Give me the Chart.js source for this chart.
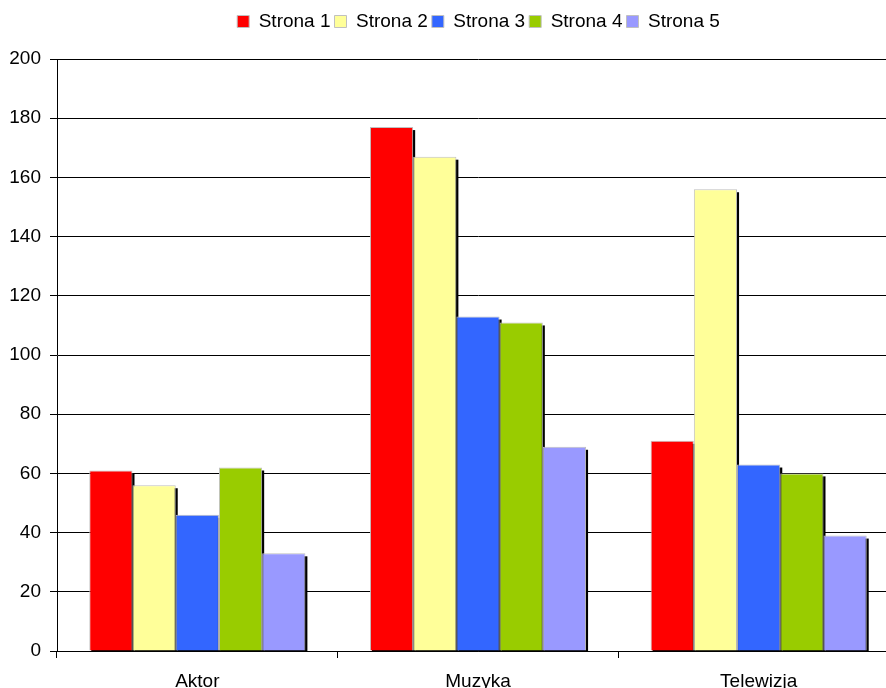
<!DOCTYPE html>
<html>
<head>
<meta charset="utf-8">
<script src="https://cdn.jsdelivr.net/npm/chart.js@4"></script>
<style>
  html, body { margin: 0; padding: 0; background: #fff; overflow: hidden; }
  #wrap { position: absolute; left: 0; top: 0; width: 900px; height: 700px; }
</style>
</head>
<body>
<div id="wrap"><canvas id="chart" width="900" height="700"></canvas></div>
<script>
// categories and series
const categories = ['Aktor', 'Muzyka', 'Telewizja'];
const seriesNames = ['Strona 1', 'Strona 2', 'Strona 3', 'Strona 4', 'Strona 5'];
const strona1 = [61, 177, 71];
const strona2 = [56, 167, 156];
const strona3 = [46, 113, 63];
const strona4 = [62, 111, 60];
const strona5 = [33, 69, 39];
const yMin = 0, yMax = 200, yStep = 20;

const seriesValues = [strona1, strona2, strona3, strona4, strona5];
const seriesColors = ['#ff0000', '#ffff99', '#3366ff', '#99cc00', '#9999ff'];

const FONT = 'Liberation Sans, Arial, sans-serif';
const FONT_SIZE = 19;

// black drop shadow behind every bar (right / lower side)
const barShadow = {
    id: 'barShadow',
    beforeDatasetsDraw(chart) {
        const ctx = chart.ctx, area = chart.chartArea;
        ctx.save();
        ctx.beginPath();
        ctx.rect(area.left, area.top, area.right - area.left, area.bottom - area.top);
        ctx.clip();
        ctx.fillStyle = '#000';
        chart.data.datasets.forEach((ds, i) => {
            chart.getDatasetMeta(i).data.forEach(bar => {
                const p = bar.getProps(['x', 'y', 'base', 'width'], true);
                ctx.fillRect(p.x - p.width / 2 + 2, p.y + 3, p.width, p.base - p.y);
            });
        });
        ctx.restore();
    }
};

// fixed legend band height and a small shift of the legend row
const legendBand = {
    id: 'legendBand',
    beforeInit(chart) {
        const fit = chart.legend.fit;
        chart.legend.fit = function () {
            fit.call(this);
            this.height = 59;
        };
    },
    afterLayout(chart) {
        chart.legend.left += 29;
        chart.legend.right += 29;
        chart.legend.top += 8;
        chart.legend.bottom += 8;
    }
};

new Chart(document.getElementById('chart'), {
    type: 'bar',
    data: {
        labels: categories,
        datasets: seriesNames.map((name, i) => ({
            label: name,
            data: seriesValues[i],
            backgroundColor: seriesColors[i],
            borderColor: '#c0c0c0',
            borderWidth: 1,
            categoryPercentage: 0.77,
            barPercentage: 1
        }))
    },
    options: {
        responsive: false,
        animation: false,
        events: [],
        layout: { padding: { left: 0, right: 1, top: 0, bottom: 0 } },
        plugins: {
            legend: {
                position: 'top',
                labels: {
                    font: { family: FONT, size: FONT_SIZE },
                    color: '#000',
                    boxWidth: 12,
                    boxHeight: 12,
                    padding: 4
                }
            },
            tooltip: { enabled: false }
        },
        scales: {
            x: {
                afterFit(scale) { scale.height = 49; },
                grid: {
                    offset: true,
                    drawOnChartArea: false,
                    drawTicks: true,
                    tickLength: 7,
                    color: '#000'
                },
                border: { color: '#000', width: 1 },
                ticks: {
                    font: { family: FONT, size: FONT_SIZE },
                    color: '#000',
                    padding: 12
                }
            },
            y: {
                min: yMin,
                max: yMax,
                afterFit(scale) { scale.width = 57; },
                grid: {
                    color: '#000',
                    tickLength: 7
                },
                border: { color: '#000', width: 1 },
                ticks: {
                    stepSize: yStep,
                    font: { family: FONT, size: FONT_SIZE },
                    color: '#000',
                    padding: 9
                }
            }
        }
    },
    plugins: [barShadow, legendBand]
});
</script>
</body>
</html>
